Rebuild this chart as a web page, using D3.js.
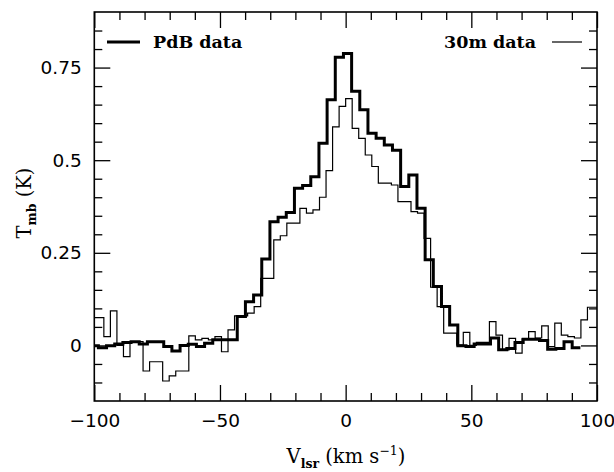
<!DOCTYPE html>
<html><head><meta charset="utf-8">
<script src="https://cdn.jsdelivr.net/npm/d3@7"></script>
<style>body{margin:0;background:#fff}</style>
</head><body>
<svg id="chart" width="614" height="472"></svg>
<script>
// PdB (thick) spectrum: channel centre velocities (km/s) and Tmb (K)
const pdbVelocity = [-100, -96.75, -93.5, -90.25, -87, -83.75, -80.5, -77.25, -74, -70.75,
  -67.5, -64.25, -61, -57.75, -54.5, -51.25, -48, -44.75, -41.5, -38.25,
  -35, -31.75, -28.5, -25.25, -22, -18.75, -15.5, -12.25, -9, -5.75,
  -2.5, 0.75, 4, 7.25, 10.5, 13.75, 17, 20.25, 23.5, 26.75,
  30, 33.25, 36.5, 39.75, 43, 46.25, 49.5, 52.75, 56, 59.25,
  62.5, 65.75, 69, 72.25, 75.5, 78.75, 82, 85.25, 88.5, 91.75];
const pdbTmb = [-0.001, -0.006, -0.001, 0.004, 0.008, 0.01, 0.004, 0.01, 0.01, -0.003,
  -0.015, 0.0, 0.003, -0.003, 0.006, 0.015, 0.015, 0.015, 0.078, 0.118,
  0.136, 0.233, 0.334, 0.346, 0.359, 0.424, 0.432, 0.455, 0.546, 0.663,
  0.778, 0.788, 0.686, 0.636, 0.573, 0.559, 0.541, 0.527, 0.429, 0.46,
  0.37, 0.231, 0.159, 0.105, 0.055, -0.001, -0.003, 0.004, 0.004, 0.02,
  -0.012, -0.008, 0.008, 0.017, 0.017, 0.013, -0.01, -0.008, 0.01, -0.006];
const pdbChannelWidth = 3.25;

// 30m (thin) spectrum
const iramVelocity = [-100.1, -97.5, -94.9, -92.3, -89.7, -87.1, -84.5, -81.9, -79.3, -76.7,
  -74.1, -71.5, -68.9, -66.3, -63.7, -61.1, -58.5, -55.9, -53.3, -50.7,
  -48.1, -45.5, -42.9, -40.3, -37.7, -35.1, -32.5, -29.9, -27.3, -24.7,
  -22.1, -19.5, -16.9, -14.3, -11.7, -9.1, -6.5, -3.9, -1.3, 1.3,
  3.9, 6.5, 9.1, 11.7, 14.3, 16.9, 19.5, 22.1, 24.7, 27.3,
  29.9, 32.5, 35.1, 37.7, 40.3, 42.9, 45.5, 48.1, 50.7, 53.3,
  55.9, 58.5, 61.1, 63.7, 66.3, 68.9, 71.5, 74.1, 76.7, 79.3,
  81.9, 84.5, 87.1, 89.7, 92.3, 94.9, 97.5, 100.1];
const iramTmb = [0.075, 0.075, 0.024, 0.093, 0.0, -0.03, 0.01, 0.01, -0.069, -0.044,
  -0.044, -0.096, -0.082, -0.069, -0.069, 0.026, 0.015, 0.019, 0.015, 0.024,
  -0.017, 0.042, 0.08, 0.08, 0.087, 0.105, 0.181, 0.181, 0.285, 0.296,
  0.33, 0.33, 0.37, 0.357, 0.366, 0.40, 0.472, 0.59, 0.645, 0.666,
  0.586, 0.559, 0.514, 0.483, 0.438, 0.438, 0.433, 0.388, 0.388, 0.361,
  0.357, 0.289, 0.157, 0.105, 0.033, 0.033, 0.001, 0.035, 0.0, 0.008,
  0.008, 0.064, 0.028, -0.012, 0.019, -0.021, 0.018, 0.037, 0.02, 0.053,
  -0.003, 0.06, 0.028, 0.024, 0.02, 0.069, 0.103, 0.103];
const iramChannelWidth = 2.6;

const seriesNames = ["PdB data", "30m data"];
const xMajorTicks = [-100, -50, 0, 50, 100];
const xTickLabels = ["\u2212100", "\u221250", "0", "50", "100"];
const xMinorTicks = [-90, -80, -70, -60, -40, -30, -20, -10, 10, 20, 30, 40, 60, 70, 80, 90];
const yMajorTicks = [0, 0.25, 0.5, 0.75];
const yTickLabels = ["0", "0.25", "0.5", "0.75"];
const yMinorTicks = [-0.1, -0.05, 0.05, 0.1, 0.15, 0.2, 0.3, 0.35, 0.4, 0.45, 0.55, 0.6, 0.65, 0.7, 0.8, 0.85];

const svg = d3.select("#chart");
const L = 94.3, R = 597, T = 12, B = 401;
const x = d3.scaleLinear().domain([-100, 100]).range([L, R]);
const y = d3.scaleLinear().domain([-0.15, 0.9]).range([B, T]);

const tickFont = "'DejaVu Sans', sans-serif";
const serif = "'DejaVu Serif', serif";

svg.append("defs").append("clipPath").attr("id", "plotclip")
  .append("rect").attr("x", L).attr("y", T).attr("width", R - L).attr("height", B - T);

function styleAxis(g) {
  g.select(".domain").remove();
  g.selectAll(".tick line").attr("stroke", "#000").attr("stroke-width", 1.3);
  g.selectAll(".tick text").attr("fill", "#000").style("font-family", tickFont).style("font-size", "18.5px");
}

// bottom
svg.append("g").attr("transform", `translate(0,${B})`)
  .call(d3.axisBottom(x).tickValues(xMajorTicks).tickSizeInner(-16).tickSizeOuter(0).tickPadding(13)
    .tickFormat((d, i) => xTickLabels[i])).call(styleAxis);
svg.append("g").attr("transform", `translate(0,${B})`)
  .call(d3.axisBottom(x).tickValues(xMinorTicks).tickSizeInner(-8).tickSizeOuter(0).tickFormat("")).call(styleAxis);
// top
svg.append("g").attr("transform", `translate(0,${T})`)
  .call(d3.axisTop(x).tickValues(xMajorTicks).tickSizeInner(-16).tickSizeOuter(0).tickFormat("")).call(styleAxis);
svg.append("g").attr("transform", `translate(0,${T})`)
  .call(d3.axisTop(x).tickValues(xMinorTicks).tickSizeInner(-8).tickSizeOuter(0).tickFormat("")).call(styleAxis);
// left
svg.append("g").attr("transform", `translate(${L},0)`)
  .call(d3.axisLeft(y).tickValues(yMajorTicks).tickSizeInner(-16).tickSizeOuter(0).tickPadding(12.5)
    .tickFormat((d, i) => yTickLabels[i])).call(styleAxis);
svg.append("g").attr("transform", `translate(${L},0)`)
  .call(d3.axisLeft(y).tickValues(yMinorTicks).tickSizeInner(-8).tickSizeOuter(0).tickFormat("")).call(styleAxis);
// right
svg.append("g").attr("transform", `translate(${R},0)`)
  .call(d3.axisRight(y).tickValues(yMajorTicks).tickSizeInner(-16).tickSizeOuter(0).tickFormat("")).call(styleAxis);
svg.append("g").attr("transform", `translate(${R},0)`)
  .call(d3.axisRight(y).tickValues(yMinorTicks).tickSizeInner(-8).tickSizeOuter(0).tickFormat("")).call(styleAxis);

// frame
svg.append("rect").attr("x", L).attr("y", T).attr("width", R - L).attr("height", B - T)
  .attr("fill", "none").attr("stroke", "#000").attr("stroke-width", 1.6);

// histogram step paths
function stepPoints(vel, val, w) {
  const pts = [];
  vel.forEach((v, i) => { pts.push([v - w / 2, val[i]]); pts.push([v + w / 2, val[i]]); });
  return pts;
}
const line = d3.line().x(d => x(d[0])).y(d => y(d[1]));
const plot = svg.append("g").attr("clip-path", "url(#plotclip)");
plot.append("path").datum(stepPoints(iramVelocity, iramTmb, iramChannelWidth))
  .attr("d", line).attr("fill", "none").attr("stroke", "#000").attr("stroke-width", 1.2);
plot.append("path").datum(stepPoints(pdbVelocity, pdbTmb, pdbChannelWidth))
  .attr("d", line).attr("fill", "none").attr("stroke", "#000").attr("stroke-width", 3).attr("stroke-linejoin", "miter");

// legend
svg.append("line").attr("x1", 107).attr("x2", 140).attr("y1", 42).attr("y2", 42)
  .attr("stroke", "#000").attr("stroke-width", 3);
svg.append("text").attr("x", 153).attr("y", 48).text(seriesNames[0])
  .style("font-family", serif).style("font-weight", "bold").style("font-size", "17.5px");
svg.append("text").attr("x", 536).attr("y", 48).attr("text-anchor", "end").text(seriesNames[1])
  .style("font-family", serif).style("font-weight", "bold").style("font-size", "17.5px");
svg.append("line").attr("x1", 552).attr("x2", 582).attr("y1", 42).attr("y2", 42)
  .attr("stroke", "#000").attr("stroke-width", 1.2);

// axis titles
const xt = svg.append("text").attr("x", 346).attr("y", 463).attr("text-anchor", "middle")
  .style("font-family", serif).style("font-size", "19.5px");
xt.append("tspan").text("V");
xt.append("tspan").attr("dy", 5).style("font-size", "12.5px").style("font-weight", "bold").text("lsr");
xt.append("tspan").attr("dy", -5).text(" (km s");
xt.append("tspan").attr("dy", -8).style("font-size", "12.5px").text("\u22121");
xt.append("tspan").attr("dy", 8).text(")");

const yt = svg.append("text").attr("transform", "translate(31,203) rotate(-90)").attr("text-anchor", "middle")
  .style("font-family", serif).style("font-size", "19.5px");
yt.append("tspan").text("T");
yt.append("tspan").attr("dy", 5).style("font-size", "12.5px").style("font-weight", "bold").text("mb");
yt.append("tspan").attr("dy", -5).text(" (K)");
</script>
</body></html>
